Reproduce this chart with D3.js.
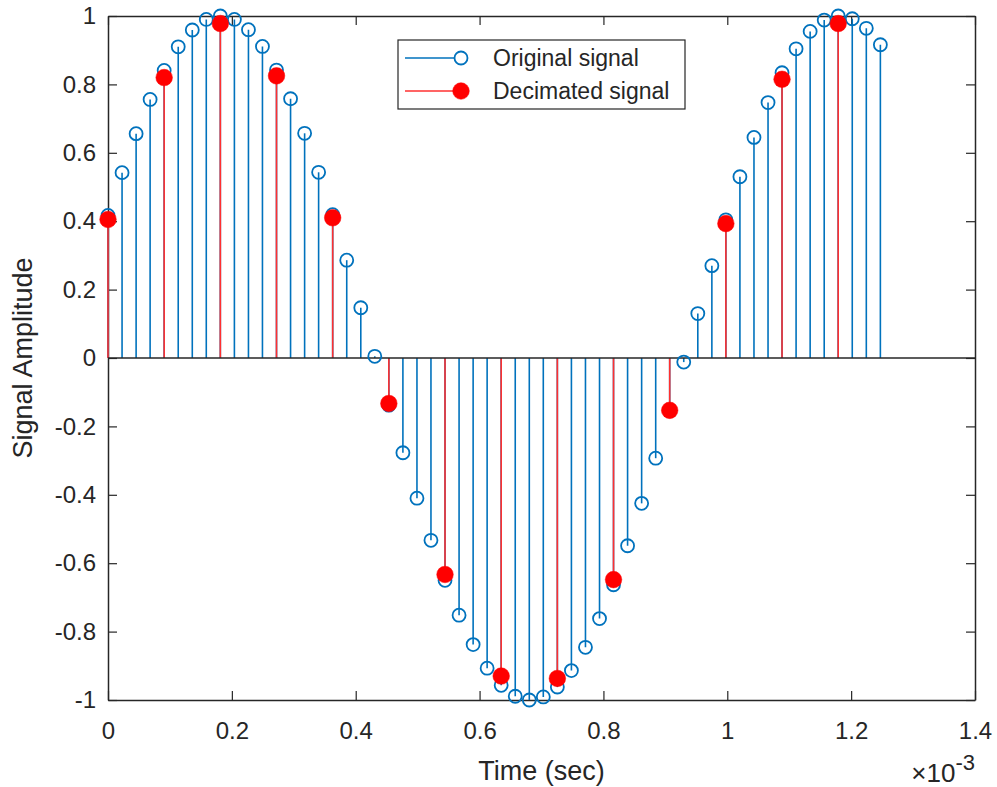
<!DOCTYPE html>
<html>
<head>
<meta charset="utf-8">
<script src="https://cdn.jsdelivr.net/npm/d3@7"></script>
<style>
  html, body { margin: 0; padding: 0; background: #fff; }
  svg { display: block; }
  text { font-family: "Liberation Sans", Arial, Helvetica, sans-serif; fill: #262626; }
</style>
</head>
<body>
<svg id="chart" width="997" height="787"></svg>
<script>
// Time in units of 1e-3 s
const origTime = [0, 0.0227, 0.0454, 0.0680, 0.0907, 0.1134, 0.1361, 0.1587, 0.1814, 0.2041,
  0.2268, 0.2494, 0.2721, 0.2948, 0.3175, 0.3401, 0.3628, 0.3855, 0.4082, 0.4308,
  0.4535, 0.4762, 0.4989, 0.5215, 0.5442, 0.5669, 0.5896, 0.6122, 0.6349, 0.6576,
  0.6803, 0.7029, 0.7256, 0.7483, 0.7710, 0.7937, 0.8163, 0.8390, 0.8617, 0.8844,
  0.9070, 0.9297, 0.9524, 0.9751, 0.9977, 1.0204, 1.0431, 1.0658, 1.0884, 1.1111,
  1.1338, 1.1565, 1.1791, 1.2018, 1.2245, 1.2472];
const origValue = [0.417, 0.542, 0.656, 0.756, 0.841, 0.910, 0.959, 0.990, 1.000, 0.990,
  0.960, 0.911, 0.842, 0.758, 0.657, 0.543, 0.419, 0.286, 0.147, 0.005,
  -0.138, -0.277, -0.410, -0.533, -0.650, -0.752, -0.838, -0.907, -0.957, -0.989,
  -1.000, -0.991, -0.962, -0.914, -0.846, -0.762, -0.663, -0.549, -0.425, -0.293,
  -0.154, -0.012, 0.130, 0.270, 0.404, 0.530, 0.645, 0.747, 0.834, 0.904,
  0.955, 0.988, 1.000, 0.992, 0.964, 0.916];
const decTime = [0, 0.0907, 0.1814, 0.2721, 0.3628, 0.4535, 0.5442, 0.6349, 0.7256, 0.8163,
  0.9070, 0.9977, 1.0884, 1.1791];
const decValue = [0.405, 0.820, 0.978, 0.825, 0.410, -0.133, -0.633, -0.930, -0.937, -0.648,
  -0.153, 0.393, 0.815, 0.978];
const xTicks = [0, 0.2, 0.4, 0.6, 0.8, 1, 1.2, 1.4];
const yTicks = [-1, -0.8, -0.6, -0.4, -0.2, 0, 0.2, 0.4, 0.6, 0.8, 1];
const legendLabels = ["Original signal", "Decimated signal"];

const svg = d3.select("#chart");
const L = 108, R = 975, T = 16, B = 700;
const x = d3.scaleLinear().domain([0, 1.4]).range([L, R]);
const y = d3.scaleLinear().domain([-1, 1]).range([B, T]);
const axisColor = "#262626";
const blue = "#0072BD";
const red = "#FF0000";

const fmt = d => (d < 0 ? "-" : "") + String(Math.abs(Math.round(d * 10) / 10));

// Axes (box with ticks inside on all four sides)
const gx = svg.append("g").attr("transform", `translate(0,${B})`)
  .call(d3.axisBottom(x).tickValues(xTicks).tickFormat(fmt).tickSizeInner(-9).tickSizeOuter(0).tickPadding(20));
const gxTop = svg.append("g").attr("transform", `translate(0,${T})`)
  .call(d3.axisTop(x).tickValues(xTicks).tickFormat("").tickSizeInner(-9).tickSizeOuter(0));
const gy = svg.append("g").attr("transform", `translate(${L},0)`)
  .call(d3.axisLeft(y).tickValues(yTicks).tickFormat(fmt).tickSizeInner(-9).tickSizeOuter(0).tickPadding(20));
const gyR = svg.append("g").attr("transform", `translate(${R},0)`)
  .call(d3.axisRight(y).tickValues(yTicks).tickFormat("").tickSizeInner(-9).tickSizeOuter(0));
[gx, gxTop, gy, gyR].forEach(g => {
  g.selectAll("path.domain").attr("stroke", axisColor).attr("stroke-width", 1.5);
  g.selectAll(".tick line").attr("stroke", axisColor).attr("stroke-width", 1.2);
  g.selectAll(".tick text").style("font-size", "24px").attr("fill", axisColor)
    .style("font-family", "'Liberation Sans', Arial, sans-serif");
});
gx.selectAll(".tick text").attr("dy", "0.71em").attr("y", 22);
gy.selectAll(".tick text").attr("x", -12);

// Stems - original
svg.append("g").selectAll("line").data(origTime).join("line")
  .attr("x1", (d) => x(d)).attr("x2", (d) => x(d))
  .attr("y1", y(0)).attr("y2", (d, i) => y(origValue[i]))
  .attr("stroke", blue).attr("stroke-width", 1.6);

// Stems - decimated
svg.append("g").selectAll("line").data(decTime).join("line")
  .attr("x1", (d) => x(d)).attr("x2", (d) => x(d))
  .attr("y1", y(0)).attr("y2", (d, i) => y(decValue[i]))
  .attr("stroke", "#ff3030").attr("stroke-width", 1.6);

// Baseline
svg.append("line").attr("x1", x(0)).attr("x2", x(1.4)).attr("y1", y(0)).attr("y2", y(0))
  .attr("stroke", axisColor).attr("stroke-width", 1.6);

// Markers - original
svg.append("g").selectAll("circle").data(origTime).join("circle")
  .attr("cx", (d) => x(d)).attr("cy", (d, i) => y(origValue[i])).attr("r", 6.5)
  .attr("fill", "none").attr("stroke", blue).attr("stroke-width", 1.8);

// Markers - decimated
svg.append("g").selectAll("circle").data(decTime).join("circle")
  .attr("cx", (d) => x(d)).attr("cy", (d, i) => y(decValue[i])).attr("r", 8.3)
  .attr("fill", red).attr("stroke", red).attr("stroke-width", 0.5);

// Legend
const lg = svg.append("g");
lg.append("rect").attr("x", 398).attr("y", 40).attr("width", 287).attr("height", 69)
  .attr("fill", "#fff").attr("stroke", axisColor).attr("stroke-width", 1.2);
const rows = [
  { label: legendLabels[0], color: blue, filled: false, y: 58 },
  { label: legendLabels[1], color: red, filled: true, y: 91 }
];
rows.forEach(r => {
  lg.append("line").attr("x1", 405).attr("x2", 461).attr("y1", r.y).attr("y2", r.y)
    .attr("stroke", r.filled ? "#ff3030" : blue).attr("stroke-width", 1.6);
  lg.append("circle").attr("cx", 461).attr("cy", r.y).attr("r", r.filled ? 8.3 : 6.5)
    .attr("fill", r.filled ? red : "#fff").attr("stroke", r.color).attr("stroke-width", r.filled ? 0.5 : 1.8);
  lg.append("text").attr("x", 493).attr("y", r.y).attr("dy", "0.35em")
    .style("font-size", "23px").text(r.label);
});

// Axis labels
svg.append("text").attr("x", (L + R) / 2).attr("y", 780).attr("text-anchor", "middle")
  .style("font-size", "27px").text("Time (sec)");
svg.append("text").attr("transform", `translate(32,${(T + B) / 2}) rotate(-90)`)
  .attr("text-anchor", "middle").style("font-size", "27px").text("Signal Amplitude");

// Exponent label
const ex = svg.append("text").attr("x", 975).attr("y", 782).attr("text-anchor", "end")
  .style("font-size", "26px");
ex.append("tspan").text("×10");
ex.append("tspan").attr("dy", -12).style("font-size", "22px").text("-3");
</script>
</body>
</html>
